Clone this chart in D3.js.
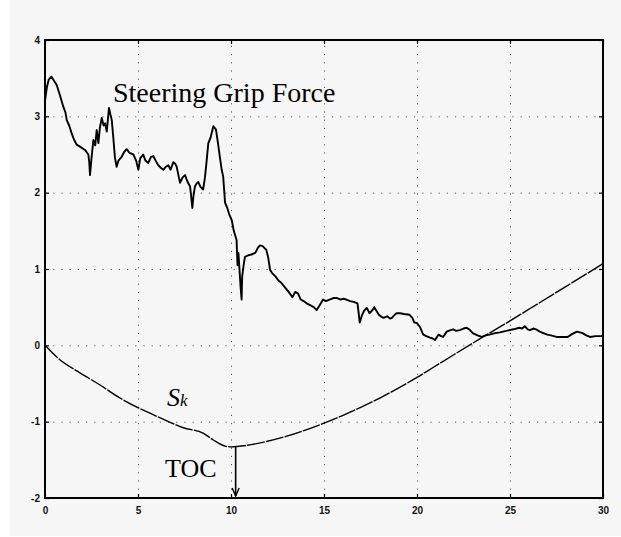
<!DOCTYPE html>
<html>
<head>
<meta charset="utf-8">
<script src="https://cdn.jsdelivr.net/npm/d3@7"></script>
<style>
  html, body { margin: 0; padding: 0; background: #ffffff; }
  svg { display: block; }
  .tick text { font-family: "Liberation Sans", Arial, sans-serif; font-weight: bold; font-size: 10px; fill: #111; }
</style>
</head>
<body>
<svg id="chart" width="621" height="537"></svg>
<script>
// Time axis (s) and value axis ticks
const xTicks = [0, 5, 10, 15, 20, 25, 30];
const yTicks = [-2, -1, 0, 1, 2, 3, 4];

// Steering grip force trace: time (s) and force
const forceT = [0.0,0.1,0.2,0.35,0.5,0.63,0.8,0.98,1.1,1.17,1.3,1.43,1.55,1.7,1.9,2.15,2.33,2.38,2.42,2.5,2.6,2.7,2.78,2.87,2.95,3.05,3.15,3.23,3.32,3.44,3.52,3.59,3.68,3.76,3.85,3.95,4.12,4.25,4.39,4.55,4.75,4.9,5.02,5.12,5.28,5.4,5.55,5.7,5.82,5.95,6.09,6.2,6.36,6.5,6.63,6.75,6.9,7.0,7.08,7.18,7.26,7.4,7.53,7.65,7.8,7.86,7.92,7.98,8.06,8.15,8.24,8.35,8.5,8.6,8.68,8.78,8.9,9.05,9.12,9.19,9.3,9.4,9.5,9.58,9.68,9.8,9.9,10.04,10.15,10.3,10.35,10.4,10.48,10.52,10.57,10.6,10.68,10.75,10.93,11.1,11.3,11.45,11.56,11.7,11.9,12.0,12.1,12.2,12.4,12.55,12.7,12.9,13.1,13.3,13.45,13.6,13.75,13.9,14.07,14.3,14.45,14.6,14.75,14.95,15.1,15.3,15.5,15.7,15.9,16.05,16.2,16.4,16.6,16.8,16.85,16.92,17.05,17.15,17.3,17.45,17.6,17.7,17.8,17.95,18.05,18.2,18.4,18.55,18.65,18.8,18.9,19.1,19.3,19.6,19.75,19.85,20.0,20.16,20.3,20.34,20.5,20.7,20.85,20.97,21.15,21.3,21.4,21.6,21.8,21.95,22.1,22.3,22.5,22.67,22.85,23.0,23.25,23.48,23.7,23.9,24.2,24.46,24.8,25.18,25.35,25.5,25.65,25.8,25.95,26.08,26.25,26.4,26.6,26.8,27.0,27.2,27.5,27.77,28.1,28.35,28.6,28.75,28.9,29.1,29.3,29.6,29.9,30.0];
const forceV = [3.20,3.38,3.48,3.52,3.46,3.41,3.28,3.13,3.05,2.95,2.88,2.78,2.70,2.63,2.60,2.56,2.50,2.40,2.23,2.45,2.69,2.62,2.82,2.65,2.85,2.98,2.88,2.91,2.80,3.11,3.02,2.95,2.70,2.46,2.34,2.42,2.47,2.53,2.57,2.52,2.50,2.42,2.30,2.45,2.50,2.42,2.39,2.47,2.48,2.42,2.36,2.33,2.30,2.34,2.36,2.30,2.40,2.38,2.34,2.22,2.13,2.20,2.23,2.15,2.08,1.95,1.80,1.95,2.08,2.12,2.14,2.08,2.04,2.20,2.39,2.65,2.72,2.87,2.85,2.83,2.65,2.47,2.30,2.21,1.87,1.80,1.72,1.64,1.50,1.38,1.05,1.21,0.90,0.75,0.60,0.90,1.05,1.16,1.18,1.19,1.21,1.28,1.31,1.30,1.25,1.15,0.99,0.95,0.90,0.85,0.82,0.76,0.70,0.63,0.70,0.68,0.60,0.58,0.55,0.52,0.50,0.46,0.52,0.60,0.58,0.60,0.62,0.62,0.60,0.61,0.60,0.58,0.57,0.55,0.45,0.30,0.40,0.45,0.49,0.42,0.46,0.50,0.46,0.40,0.38,0.36,0.38,0.35,0.36,0.40,0.42,0.42,0.41,0.40,0.36,0.30,0.29,0.24,0.16,0.14,0.12,0.10,0.09,0.07,0.14,0.12,0.11,0.18,0.20,0.21,0.19,0.20,0.22,0.23,0.20,0.16,0.13,0.11,0.13,0.14,0.16,0.17,0.19,0.21,0.22,0.23,0.22,0.25,0.21,0.20,0.22,0.21,0.18,0.16,0.14,0.13,0.11,0.11,0.11,0.15,0.18,0.17,0.16,0.13,0.11,0.12,0.12,0.13];

// S_k trace: time (s) and value
const skT = [0,0.8,1.88,2.96,4.03,5.02,6.2,7.44,8.5,9.05,9.68,10.0,10.85,11.9,13.0,14.0,15,16,17,18,19,20,20.8,22,23.55,25,26,27,28,29,30];
const skV = [0,-0.19,-0.36,-0.52,-0.69,-0.82,-0.95,-1.08,-1.15,-1.24,-1.32,-1.33,-1.31,-1.26,-1.19,-1.11,-1.02,-0.92,-0.81,-0.69,-0.56,-0.42,-0.30,-0.12,0.11,0.32,0.47,0.62,0.77,0.92,1.07];

// Time of the TOC marker (s)
const tocTime = 10.25;

const svg = d3.select("#chart");
const W = 621, H = 537;
const m = { left: 45, right: 18, top: 40, bottom: 39 };
const iw = W - m.left - m.right, ih = H - m.top - m.bottom;

// paper background
svg.append("rect").attr("x", 10).attr("y", 0).attr("width", W - 10).attr("height", H - 1).attr("fill", "#f6f6f6");

const x = d3.scaleLinear().domain([0, 30]).range([0, iw]);
const y = d3.scaleLinear().domain([-2, 4]).range([ih, 0]);
const plain = d => String(d);

const g = svg.append("g").attr("transform", `translate(${m.left},${m.top})`);

// dotted grid
const gridX = g.append("g").attr("transform", `translate(0,${ih})`)
  .call(d3.axisBottom(x).tickValues(xTicks.slice(1, -1)).tickSize(-ih).tickFormat(""));
const gridY = g.append("g")
  .call(d3.axisLeft(y).tickValues(yTicks.slice(1, -1)).tickSize(-iw).tickFormat(""));
[gridX, gridY].forEach(s => {
  s.select(".domain").remove();
  s.selectAll("line").attr("stroke", "#555").attr("stroke-width", 1).attr("stroke-dasharray", "1.2,7");
});

// traces
const lineF = d3.line().x((d, i) => x(forceT[i])).y(d => y(d));
g.append("path").datum(forceV).attr("d", lineF)
  .attr("fill", "none").attr("stroke", "#000").attr("stroke-width", 1.9).attr("stroke-linejoin", "round");

const lineS = d3.line().x((d, i) => x(skT[i])).y(d => y(d)).curve(d3.curveMonotoneX);
g.append("path").datum(skV).attr("d", lineS)
  .attr("fill", "none").attr("stroke", "#000").attr("stroke-width", 1.4).attr("stroke-dasharray", "18,1.2");

// axes with inward ticks on all four sides
const axB = g.append("g").attr("transform", `translate(0,${ih})`)
  .call(d3.axisBottom(x).tickValues(xTicks).tickSizeInner(-4).tickSizeOuter(0).tickPadding(9).tickFormat(plain));
const axL = g.append("g")
  .call(d3.axisLeft(y).tickValues(yTicks).tickSizeInner(-4).tickSizeOuter(0).tickPadding(5).tickFormat(plain));
const axT = g.append("g")
  .call(d3.axisTop(x).tickValues(xTicks).tickSizeInner(-4).tickSizeOuter(0).tickFormat(""));
const axR = g.append("g").attr("transform", `translate(${iw},0)`)
  .call(d3.axisRight(y).tickValues(yTicks).tickSizeInner(-4).tickSizeOuter(0).tickFormat(""));
[axB, axL, axT, axR].forEach(s => {
  s.select(".domain").remove();
  s.selectAll("line").attr("stroke", "#000").attr("stroke-width", 1.2);
});

// frame
g.append("rect").attr("x", 0).attr("y", 0).attr("width", iw).attr("height", ih)
  .attr("fill", "none").attr("stroke", "#000").attr("stroke-width", 2);

// TOC arrow
const skAtToc = d3.scaleLinear().domain(skT).range(skV)(tocTime);
const ax0 = x(tocTime), ay0 = y(skAtToc), ay1 = y(-2) - 2;
g.append("line").attr("x1", ax0).attr("x2", ax0).attr("y1", ay0).attr("y2", ay1)
  .attr("stroke", "#000").attr("stroke-width", 1.6);
g.append("path").attr("d", `M${ax0 - 3.5},${ay1 - 8}L${ax0},${ay1}L${ax0 + 3.5},${ay1 - 8}`)
  .attr("fill", "none").attr("stroke", "#000").attr("stroke-width", 1.4);

// annotations
svg.append("text").attr("x", 113).attr("y", 102)
  .attr("font-family", "'Liberation Serif', 'Times New Roman', serif").attr("font-size", 28).attr("fill", "#000")
  .text("Steering Grip Force");

const sk = svg.append("text").attr("x", 167).attr("y", 406)
  .attr("font-family", "'Liberation Serif', 'Times New Roman', serif").attr("font-style", "italic").attr("fill", "#000");
sk.append("tspan").attr("font-size", 26).text("S");
sk.append("tspan").attr("font-size", 17).text("k");

svg.append("text").attr("x", 165).attr("y", 477)
  .attr("font-family", "'Liberation Serif', 'Times New Roman', serif").attr("font-size", 26).attr("fill", "#000")
  .text("TOC");
</script>
</body>
</html>
